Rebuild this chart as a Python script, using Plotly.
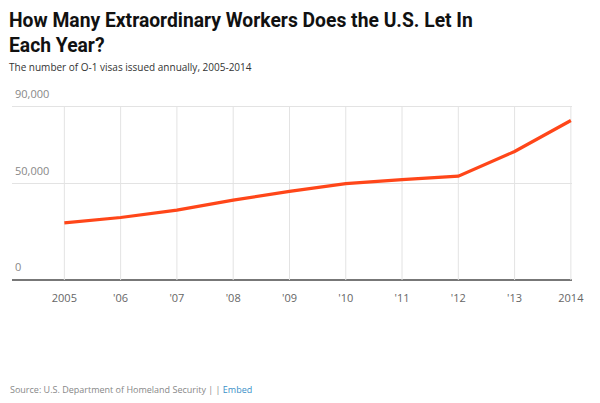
import plotly.graph_objects as go

years = [2005, 2006, 2007, 2008, 2009, 2010, 2011, 2012, 2013, 2014]
tick_labels = ["2005", "'06", "'07", "'08", "'09", "'10", "'11", "'12", "'13", "2014"]
visas = [29700, 32500, 36300, 41500, 46100, 50100, 52200, 54000, 66800, 82900]
y_ticks = [0, 50000, 90000]
y_tick_labels = ["0", "50,000", "90,000"]
y_top = 90000
y_headroom = 105000  # extra room so the inside label of the top tick fits

# page body has an 8px margin, so the figure is drawn 8px in from the corner
W, H = 592, 395
B = 123
L, R = 4, 28
PX_PER_UNIT = 173.3 / 90000
T = H - B - y_headroom * PX_PER_UNIT

# vertical grid lines that stop at the top tick (built from the category list)
grid_x, grid_y = [], []
for yr in years:
    grid_x += [yr, yr, None]
    grid_y += [0, y_top, None]

fig = go.Figure()
fig.add_trace(go.Scatter(
    x=grid_x, y=grid_y, mode="lines",
    line=dict(color="#e3e3e3", width=1),
    hoverinfo="skip", showlegend=False,
))
fig.add_trace(go.Scatter(
    x=years, y=visas, mode="lines",
    line=dict(color="#ff4619", width=3.2),
    hoverinfo="x+y", showlegend=False,
))

fig.update_layout(
    width=W, height=H,
    margin=dict(l=L, r=R, t=T, b=B),
    paper_bgcolor="white", plot_bgcolor="white",
    font=dict(family="Open Sans, sans-serif", color="#666666", size=11),
    xaxis=dict(
        range=[2004.07, 2014.02], tickvals=years, ticktext=tick_labels,
        showgrid=False,
        zeroline=False, showline=False, ticks="",
        tickfont=dict(size=11, color="#666666"), ticklabelstandoff=10,
    ),
    yaxis=dict(
        range=[0, y_headroom], tickvals=y_ticks, ticktext=y_tick_labels,
        showgrid=True, gridcolor="#e3e3e3", gridwidth=1,
        zeroline=True, zerolinecolor="#777777", zerolinewidth=2,
        showline=False, ticks="", ticklabelposition="inside top",
        ticklabelshift=-5,
        tickfont=dict(size=11, color="#888888"),
    ),
)


def px_to_paper(xp, yp):
    # xp, yp in window pixels
    xf, yf = xp - 8, yp - 8
    return (xf - L) / (W - L - R), (H - B - yf) / (H - T - B)


ax, ay = px_to_paper(7, 7)
bx, by = px_to_paper(7, 58)
cx, cy = px_to_paper(8, 381)
fig.add_annotation(
    text="<b>How Many Extraordinary Workers Does the U.S. Let In<br>Each Year?</b>",
    x=ax, y=ay, xref="paper", yref="paper", xanchor="left", yanchor="top",
    showarrow=False, align="left",
    font=dict(family="Roboto, sans-serif", size=19.3, color="#111111"),
)
fig.add_annotation(
    text="The number of O-1 visas issued annually, 2005-2014",
    x=bx, y=by, xref="paper", yref="paper", xanchor="left", yanchor="top",
    showarrow=False, align="left",
    font=dict(family="Open Sans, sans-serif", size=10, color="#333333"),
)
fig.add_annotation(
    text="Source: U.S. Department of Homeland Security | | <span style='color:#3a90c8'>Embed</span>",
    x=cx, y=cy, xref="paper", yref="paper", xanchor="left", yanchor="top",
    showarrow=False, align="left",
    font=dict(family="Open Sans, sans-serif", size=9, color="#888888"),
)

fig.write_html("out.html")
